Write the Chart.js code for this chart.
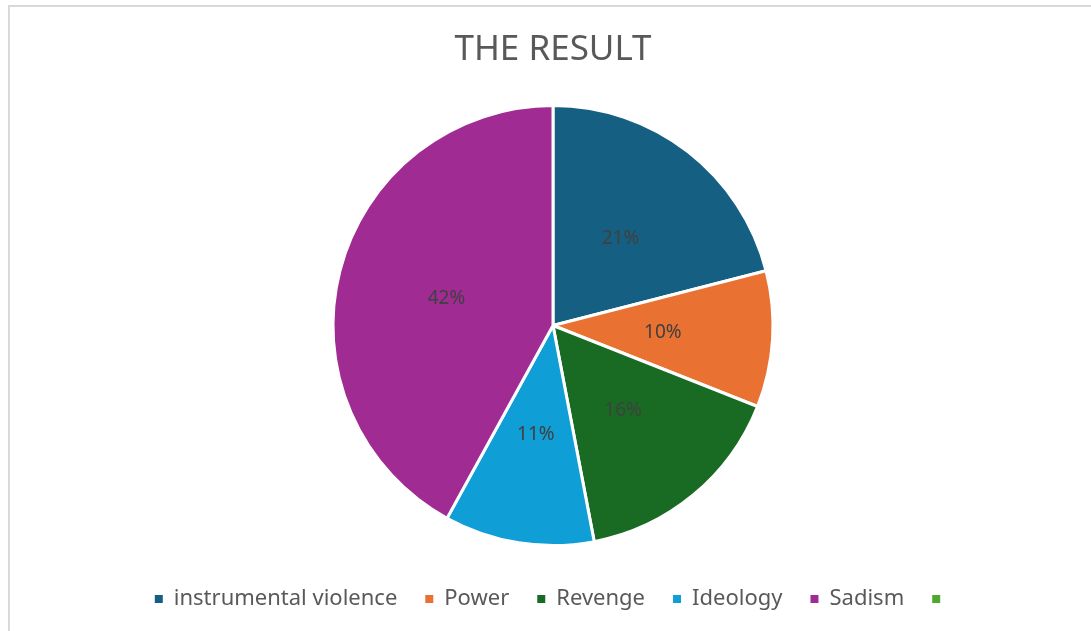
<!DOCTYPE html>
<html>
<head>
<meta charset="utf-8">
<script src="https://cdn.jsdelivr.net/npm/chart.js@4/dist/chart.umd.min.js"></script>
<style>
  html, body { margin: 0; padding: 0; background: #fff; overflow: hidden; }
  #frame {
    position: absolute; left: 8px; top: 5px; width: 1100px; height: 640px;
    border: 2px solid #d9d9d9; box-sizing: border-box;
  }
  #wrap { position: absolute; left: 0; top: 0; width: 1091px; height: 631px; }
</style>
</head>
<body>
<div id="frame"></div>
<div id="wrap"><canvas id="pieChart"></canvas></div>
<script>
// dữ liệu
const categories = ['instrumental violence', 'Power', 'Revenge', 'Ideology', 'Sadism', ''];
const shares = [21, 10, 16, 11, 42, 0];
const sliceColors = ['#156082', '#E97132', '#196B24', '#0F9ED5', '#A02B93', '#4EA72E'];

// vẽ nhãn % ở giữa mỗi lát
const percentLabels = {
    id: 'percentLabels',
    afterDatasetsDraw(chart) {
        const ctx = chart.ctx;
        const ds = chart.data.datasets[0];
        const total = ds.data.reduce((a, b) => a + b, 0);
        chart.getDatasetMeta(0).data.forEach((arc, i) => {
            const v = ds.data[i];
            if (!v) return;
            const p = arc.getCenterPoint();
            ctx.save();
            ctx.fillStyle = '#404040';
            ctx.font = '19px "Noto Sans"';
            ctx.textAlign = 'center';
            ctx.textBaseline = 'middle';
            ctx.fillText(Math.round(v / total * 100) + '%', p.x, p.y);
            ctx.restore();
        });
    }
};

const ctx = document.getElementById('pieChart').getContext('2d');
const resultChart = new Chart(ctx, {
    type: 'pie',
    data: {
        labels: categories,
        datasets: [{
            data: shares,
            backgroundColor: sliceColors,
            borderColor: '#ffffff',
            borderWidth: 3,
            radius: 220
        }]
    },
    options: {
        responsive: true,
        maintainAspectRatio: false,
        animation: false,
        layout: { padding: { left: 15, right: 0, top: 0, bottom: 11 } },
        plugins: {
            title: {
                display: true,
                text: 'THE RESULT',
                color: '#595959',
                font: { family: 'Noto Sans', size: 35, weight: 'normal' },
                padding: { top: 29, bottom: 20 }
            },
            legend: {
                position: 'bottom',
                labels: {
                    color: '#595959',
                    font: { family: 'Noto Sans', size: 22 },
                    boxWidth: 8,
                    boxHeight: 8,
                    padding: 28,
                    generateLabels(chart) {
                        return Chart.overrides.pie.plugins.legend.labels.generateLabels(chart)
                            .map(l => ({ ...l, lineWidth: 0, strokeStyle: l.fillStyle }));
                    }
                }
            },
            tooltip: { enabled: false }
        }
    },
    plugins: [percentLabels]
});
</script>
</body>
</html>
